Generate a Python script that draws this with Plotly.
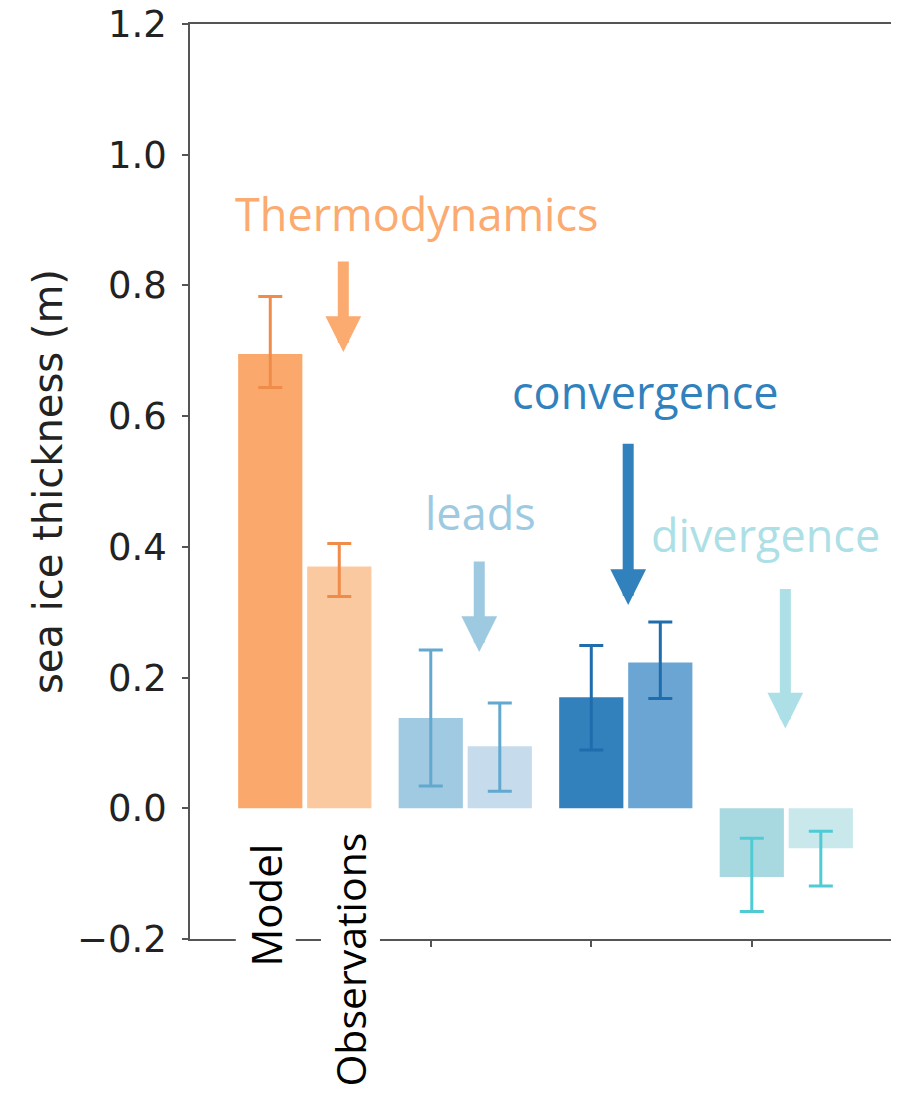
import plotly.graph_objects as go

# ---------------- data ----------------
groups = ["Thermodynamics", "leads", "convergence", "divergence"]
model_vals = [0.695, 0.138, 0.170, -0.105]
model_upper = [0.783, 0.242, 0.249, -0.046]
model_lower = [0.644, 0.034, 0.089, -0.158]
obs_vals = [0.370, 0.095, 0.223, -0.061]
obs_upper = [0.405, 0.161, 0.285, -0.035]
obs_lower = [0.324, 0.026, 0.168, -0.119]
bar_labels = ["Model", "Observations"]
y_ticks = [-0.2, 0.0, 0.2, 0.4, 0.6, 0.8, 1.0, 1.2]

# ---------------- styles ----------------
model_colors = ["#fba86c", "#a0cae1", "#3381bc", "#a8d9e0"]
obs_colors = ["#fbc9a0", "#c6dcec", "#6ba5d3", "#c8e8ec"]
err_colors = ["#f08c4a", "#62a8cf", "#1f6dac", "#4fcbd3"]
label_colors = ["#fbaa70", "#9ecae1", "#3181bd", "#addfe6"]
OBS_OFFSET = 0.43
BAR_W = 0.40

# label / arrow placement (x in group units, y in data units)
label_pos = [(0.91, 0.91), (1.308, 0.453), (2.336, 0.638), (3.084, 0.419)]
arrow_x = [0.455, 1.302, 2.23, 3.209]
arrow_tail = [0.839, 0.380, 0.560, 0.338]
arrow_tip = [0.698, 0.239, 0.311, 0.122]

fig = go.Figure()
for i, g in enumerate(groups):
    fig.add_trace(go.Bar(
        x=[i], y=[model_vals[i]], width=BAR_W,
        marker=dict(color=model_colors[i], line=dict(width=0)),
        error_y=dict(type="data", symmetric=False,
                     array=[model_upper[i] - model_vals[i]],
                     arrayminus=[model_vals[i] - model_lower[i]],
                     color=err_colors[i], thickness=3, width=12),
        name=f"{g} model", showlegend=False))
    fig.add_trace(go.Bar(
        x=[i + OBS_OFFSET], y=[obs_vals[i]], width=BAR_W,
        marker=dict(color=obs_colors[i], line=dict(width=0)),
        error_y=dict(type="data", symmetric=False,
                     array=[obs_upper[i] - obs_vals[i]],
                     arrayminus=[obs_vals[i] - obs_lower[i]],
                     color=err_colors[i], thickness=3, width=12),
        name=f"{g} observations", showlegend=False))

annotations = []
for i, g in enumerate(groups):
    annotations.append(dict(
        x=label_pos[i][0], y=label_pos[i][1], xref="x", yref="y",
        text=g, showarrow=False, xanchor="center", yanchor="middle",
        font=dict(family="Open Sans", size=45, color=label_colors[i])))
    annotations.append(dict(
        x=arrow_x[i], y=arrow_tip[i], xref="x", yref="y",
        ax=arrow_x[i], ay=arrow_tail[i], axref="x", ayref="y",
        text="", showarrow=True, arrowhead=2, arrowsize=0.65,
        arrowwidth=11, arrowcolor=label_colors[i]))

annotations.append(dict(
    x=-0.03, y=0.037, xref="x", yref="paper", text=bar_labels[0],
    textangle=-90, showarrow=False, xanchor="center", yanchor="middle",
    bgcolor="white", font=dict(family="Open Sans", size=42, color="black")))
annotations.append(dict(
    x=0.5, y=-0.023, xref="x", yref="paper", text=bar_labels[1],
    textangle=-90, showarrow=False, xanchor="center", yanchor="middle",
    bgcolor="white", font=dict(family="Open Sans", size=41, color="black")))

fig.update_layout(
    width=899, height=1094,
    margin=dict(l=182, r=13, t=16, b=163, autoexpand=False),
    plot_bgcolor="white", paper_bgcolor="white",
    barmode="overlay",
    annotations=annotations,
    xaxis=dict(range=[-0.5, 3.886], tickvals=[0, 1, 2, 3], showticklabels=False,
               ticks="outside", ticklen=6, tickwidth=1.5, tickcolor="#555",
               showline=True, linecolor="#555", linewidth=1.5, mirror=True,
               showgrid=False, zeroline=False, automargin=False),
    yaxis=dict(range=[-0.2, 1.2], tickvals=y_ticks, tickformat=".1f",
               ticks="outside", ticklen=6, tickwidth=1.5, tickcolor="#555",
               ticklabelstandoff=8, automargin=False, ticklabeloverflow="allow",
               showline=True, linecolor="#555", linewidth=1.5, mirror=True,
               showgrid=False, zeroline=False,
               tickfont=dict(family="DejaVu Sans", size=37, color="#222"),
               title=dict(text="sea ice thickness (m)", standoff=2,
                          font=dict(family="DejaVu Sans", size=40, color="#222"))),
)

fig.write_html("out.html")
